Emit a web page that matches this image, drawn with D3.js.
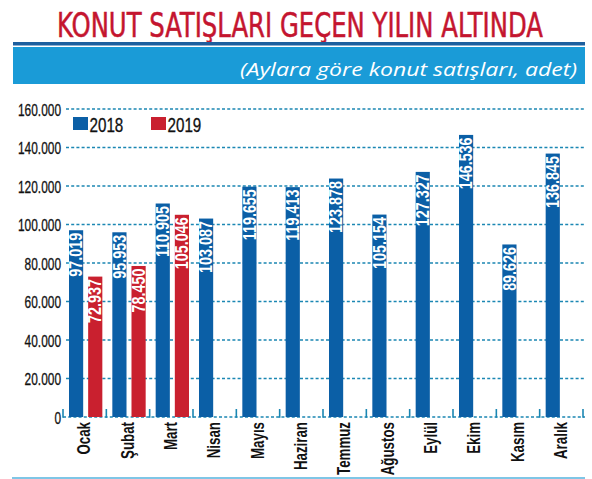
<!DOCTYPE html>
<html><head><meta charset="utf-8">
<script src="https://cdn.jsdelivr.net/npm/d3@7"></script>
<style>
html,body{margin:0;padding:0;background:#fff;}
svg{display:block;}
</style></head>
<body>
<script>
const months = ["Ocak","Şubat","Mart","Nisan","Mayıs","Haziran","Temmuz","Ağustos","Eylül","Ekim","Kasım","Aralık"];
const series = ["2018","2019"];
const values2018 = [97019,95953,110905,103087,119655,119413,123878,105154,127327,146536,89626,136845];
const values2019 = [72937,78450,105046];
const yTickValues = [0,20000,40000,60000,80000,100000,120000,140000,160000];
const titleText = "KONUT SATIŞLARI GEÇEN YILIN ALTINDA";
const subtitleText = "(Aylara göre konut satışları, adet)";

const W = 592, H = 479;
const colors = {"2018":"#0b5fa6","2019":"#c9202f"};
const gridColor = "#1b87b3";
const condensedFont = "'DejaVu Sans Condensed','Liberation Sans Narrow',sans-serif";
const sans = "'Liberation Sans',Arial,sans-serif";

const loc = d3.formatLocale({decimal:",", thousands:".", grouping:[3], currency:["",""]});
const fmt = loc.format(",d");

function condense(sel, k) {
  sel.each(function() {
    const l = this.getComputedTextLength();
    d3.select(this).attr("textLength", (l * k).toFixed(1)).attr("lengthAdjust", "spacingAndGlyphs");
  });
}

const svg = d3.select("body").append("svg").attr("width", W).attr("height", H);

// title: sized to its real width, then stretched vertically to the reference cap height
{
  const g = svg.append("g");
  const t = g.append("text").attr("x", 0).attr("y", 0)
    .attr("font-family", condensedFont).attr("font-size", 33).attr("fill", "#c4152f")
    .attr("stroke", "#c4152f").attr("stroke-width", 0.5)
    .text(titleText);
  const L = t.node().getComputedTextLength();
  const f = 33 * 486 / L;
  t.attr("font-size", f.toFixed(2)).attr("stroke-width", (0.5 * f / 33).toFixed(2));
  g.attr("transform", `translate(57,37) scale(1,${(33 / f).toFixed(3)})`);
}

// header bands
svg.append("rect").attr("x", 13).attr("y", 42).attr("width", 572).attr("height", 3.5).attr("fill", "#1d5f9e");
svg.append("rect").attr("x", 13).attr("y", 47).attr("width", 572).attr("height", 37).attr("fill", "#1a9bd7");
const sub = svg.append("text").attr("x", 577).attr("y", 76).attr("text-anchor", "end")
  .attr("font-family", "'Open Sans','Noto Sans',sans-serif").attr("font-style", "italic")
  .attr("font-size", 19).attr("fill", "#fff").text(subtitleText);
{
  const len = sub.node().getComputedTextLength();
  const target = 337;
  if (Math.abs(len - target) > 4) sub.attr("textLength", target).attr("lengthAdjust", "spacingAndGlyphs");
}

// bottom line
svg.append("rect").attr("x", 12).attr("y", 477).attr("width", 573).attr("height", 2).attr("fill", "#7fc6e6");

// scales
const x = d3.scaleBand().domain(months).range([63, 583]).paddingInner(0).paddingOuter(0);
const xs = d3.scaleBand().domain(series).range([6, x.bandwidth() - 4]).paddingInner(0.26).paddingOuter(0);
const y = d3.scaleLinear().domain([0, 160000]).range([417, 109]);

// y axis labels
const yAxis = d3.axisLeft(y).tickValues(yTickValues).tickFormat(d => fmt(d)).tickSize(0).tickPadding(0);
const gy = svg.append("g").attr("transform", "translate(61,0)").call(yAxis);
gy.select(".domain").remove();
gy.selectAll("text").attr("font-family", sans).attr("font-size", 17).attr("fill", "#111")
  .attr("stroke", "#111").attr("stroke-width", 0.3).attr("dy", "0.36em");
condense(gy.selectAll("text"), 0.70);

// gridlines
svg.append("g").selectAll("line").data(yTickValues).join("line")
  .attr("x1", d => d === 0 ? 63 : 66).attr("x2", 585)
  .attr("y1", d => y(d)).attr("y2", d => y(d))
  .attr("stroke", gridColor).attr("stroke-width", 1.6).attr("stroke-dasharray", "3,2.2");

// category boundary ticks
const bounds = months.map(m => x(m)).concat([x.range()[1]]);
svg.append("g").selectAll("line").data(bounds).join("line")
  .attr("x1", d => d).attr("x2", d => d).attr("y1", y(0) - 8).attr("y2", y(0) + 0.8)
  .attr("stroke", gridColor).attr("stroke-width", 1.6);

// data table
const rows = [];
months.forEach((m, i) => {
  rows.push({m, s: "2018", v: values2018[i]});
  if (i < values2019.length) rows.push({m, s: "2019", v: values2019[i]});
});

const bars = svg.append("g");
bars.selectAll("rect").data(rows).join("rect")
  .attr("x", d => x(d.m) + xs(d.s)).attr("width", xs.bandwidth())
  .attr("y", d => y(d.v)).attr("height", d => y(0) - y(d.v))
  .attr("fill", d => colors[d.s]);

const vl = bars.selectAll("text").data(rows).join("text")
  .attr("transform", d => `translate(${x(d.m) + xs(d.s) + xs.bandwidth()/2 + 6.2},${y(d.v) + 2.5}) rotate(-90)`)
  .attr("text-anchor", "end").attr("font-family", sans).attr("font-weight", "bold")
  .attr("font-size", 17.5).attr("fill", "#fff")
  .text(d => fmt(d.v));
condense(vl, 0.82);

// x labels
const xl = svg.append("g").selectAll("text").data(months).join("text")
  .attr("transform", m => `translate(${x(m) + x.bandwidth()/2 + 5.5},422) rotate(-90)`)
  .attr("text-anchor", "end").attr("font-family", sans).attr("font-weight", "bold")
  .attr("font-size", 18).attr("fill", "#111")
  .text(m => m);
condense(xl, 0.74);

// legend
const legend = svg.append("g");
const legX = [73, 151];
series.forEach((s, i) => {
  legend.append("rect").attr("x", legX[i]).attr("y", 117).attr("width", 15).attr("height", 13).attr("fill", colors[s]);
  const t = legend.append("text").attr("x", legX[i] + 16.5).attr("y", 131.5)
    .attr("font-family", sans).attr("font-size", 20.5).attr("fill", "#111")
    .attr("stroke", "#111").attr("stroke-width", 0.3).text(s);
  condense(t, 0.74);
});
</script>
</body></html>
